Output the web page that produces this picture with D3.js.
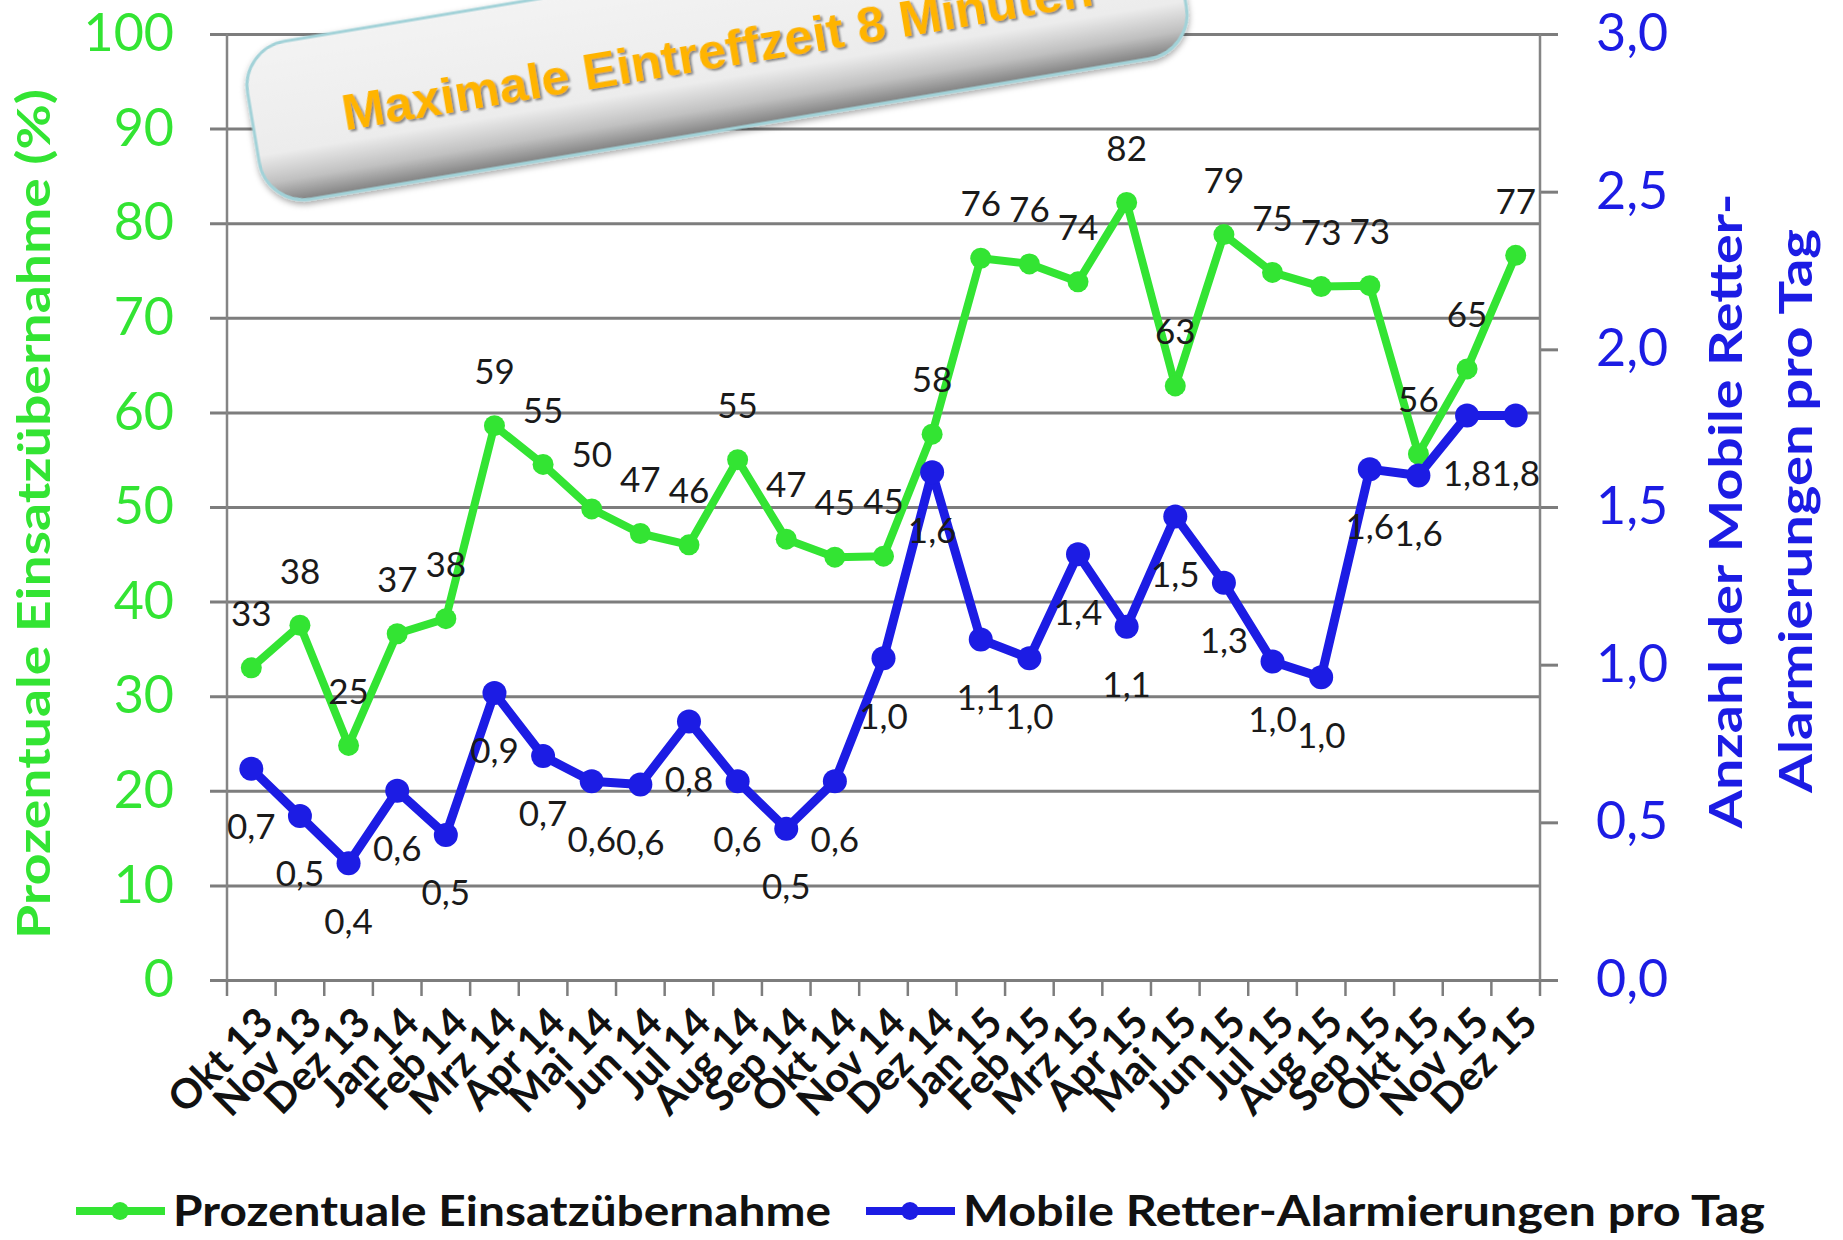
<!DOCTYPE html>
<html>
<head>
<meta charset="utf-8">
<script src="https://cdn.jsdelivr.net/npm/d3@7"></script>
<style>
body { margin: 0; background: #fff; }
svg { display: block; font-family: Lato, "Open Sans", sans-serif; }
</style>
</head>
<body>
<svg width="1843" height="1240"></svg>
<script>
// data
var months = ["Okt 13","Nov 13","Dez 13","Jan 14","Feb 14","Mrz 14","Apr 14","Mai 14","Jun 14","Jul 14","Aug 14","Sep 14","Okt 14","Nov 14","Dez 14","Jan 15","Feb 15","Mrz 15","Apr 15","Mai 15","Jun 15","Jul 15","Aug 15","Sep 15","Okt 15","Nov 15","Dez 15"];
var uebernahme = [33, 37.5, 24.8, 36.6, 38.2, 58.6, 54.5, 49.8, 47.2, 46.0, 55.0, 46.6, 44.7, 44.8, 57.7, 76.3, 75.7, 73.8, 82.2, 62.8, 78.8, 74.8, 73.3, 73.4, 55.6, 64.6, 76.6];
var alarmierungen = [0.67, 0.52, 0.37, 0.6, 0.46, 0.91, 0.71, 0.63, 0.62, 0.82, 0.63, 0.48, 0.63, 1.02, 1.61, 1.08, 1.02, 1.35, 1.12, 1.47, 1.26, 1.01, 0.96, 1.62, 1.6, 1.79, 1.79];
var leftTicks = [0, 10, 20, 30, 40, 50, 60, 70, 80, 90, 100];
var rightTicks = [0, 0.5, 1, 1.5, 2, 2.5, 3];
var seriesNames = ["Prozentuale Einsatzübernahme", "Mobile Retter-Alarmierungen pro Tag"];

var green = "#33e433", blue = "#1c1ce4";
var svg = d3.select("svg");

var x = d3.scaleBand().domain(months).range([227, 1540]);
var yL = d3.scaleLinear().domain([0, 100]).range([980, 34]);
var yR = d3.scaleLinear().domain([0, 3]).range([980, 34]);
var cx = d => x(d) + x.bandwidth() / 2;
var fmt1 = d => d3.format(".1f")(d).replace(".", ",");

var defs = svg.append("defs");
var grad = defs.append("linearGradient").attr("id", "boxfill")
  .attr("x1", 0).attr("y1", 0).attr("x2", 0).attr("y2", 1);
grad.append("stop").attr("offset", "0%").attr("stop-color", "#f3f3f3");
grad.append("stop").attr("offset", "68%").attr("stop-color", "#ececec");
grad.append("stop").attr("offset", "86%").attr("stop-color", "#c0c0c0");
grad.append("stop").attr("offset", "100%").attr("stop-color", "#808080");
defs.append("filter").attr("id", "shadow").attr("x", "-10%").attr("y", "-30%").attr("width", "120%").attr("height", "160%")
  .append("feDropShadow").attr("dx", 0).attr("dy", 3).attr("stdDeviation", 3).attr("flood-opacity", 0.35);
defs.append("filter").attr("id", "tshadow")
  .append("feDropShadow").attr("dx", 2).attr("dy", 2).attr("stdDeviation", 1.2).attr("flood-color", "#555").attr("flood-opacity", 0.7);

// left axis + gridlines
var gL = svg.append("g").attr("transform", "translate(227,0)")
  .call(d3.axisLeft(yL).tickValues(leftTicks).tickSize(-1313).tickPadding(53).tickFormat(d3.format("d")));
gL.select(".domain").remove();
gL.selectAll(".tick line").attr("x1", -17).attr("stroke", "#7d7d7d").attr("stroke-width", 3);
gL.selectAll(".tick text").attr("fill", green).attr("font-size", 52).attr("font-family", "Lato");

// right axis
var gR = svg.append("g").attr("transform", "translate(1540,0)")
  .call(d3.axisRight(yR).tickValues(rightTicks).tickSize(18).tickPadding(38).tickFormat(fmt1));
gR.select(".domain").remove();
gR.selectAll(".tick line").attr("stroke", "#7d7d7d").attr("stroke-width", 3);
gR.selectAll(".tick text").attr("fill", blue).attr("font-size", 52).attr("font-family", "Lato");

// vertical axis lines
svg.append("line").attr("x1", 227).attr("x2", 227).attr("y1", 34).attr("y2", 980).attr("stroke", "#858585").attr("stroke-width", 2.5);
svg.append("line").attr("x1", 1540).attr("x2", 1540).attr("y1", 34).attr("y2", 980).attr("stroke", "#858585").attr("stroke-width", 2.5);

// bottom axis ticks at category boundaries
svg.append("g").selectAll("line")
  .data(months.map(m => x(m)).concat([x.range()[1]]))
  .enter().append("line")
  .attr("x1", d => d).attr("x2", d => d).attr("y1", 980).attr("y2", 996)
  .attr("stroke", "#7d7d7d").attr("stroke-width", 2.5);

svg.append("g").selectAll("text")
  .data(months)
  .enter().append("text")
  .attr("transform", d => "translate(" + (cx(d) + 14) + ",1015) rotate(-45)")
  .attr("text-anchor", "end").attr("dy", "0.35em")
  .attr("font-size", 41).attr("font-weight", "bold").attr("fill", "#111")
  .text(d => d);

// lines
var lineL = d3.line().x((d, i) => cx(months[i])).y(d => yL(d));
var lineR = d3.line().x((d, i) => cx(months[i])).y(d => yR(d));

svg.append("path").datum(uebernahme).attr("d", lineL)
  .attr("fill", "none").attr("stroke", green).attr("stroke-width", 8).attr("stroke-linejoin", "round");
svg.append("g").selectAll("circle").data(uebernahme).enter().append("circle")
  .attr("cx", (d, i) => cx(months[i])).attr("cy", d => yL(d)).attr("r", 10.5).attr("fill", green);

svg.append("path").datum(alarmierungen).attr("d", lineR)
  .attr("fill", "none").attr("stroke", blue).attr("stroke-width", 9).attr("stroke-linejoin", "round");
svg.append("g").selectAll("circle").data(alarmierungen).enter().append("circle")
  .attr("cx", (d, i) => cx(months[i])).attr("cy", d => yR(d)).attr("r", 12).attr("fill", blue);

// data labels
svg.append("g").selectAll("text").data(uebernahme).enter().append("text")
  .attr("x", (d, i) => cx(months[i])).attr("y", d => yL(d) - 54)
  .attr("text-anchor", "middle").attr("dy", "0.35em")
  .attr("font-size", 35).attr("fill", "#1a1a1a")
  .text(d => Math.round(d));
svg.append("g").selectAll("text").data(alarmierungen).enter().append("text")
  .attr("x", (d, i) => cx(months[i])).attr("y", d => yR(d) + 58)
  .attr("text-anchor", "middle").attr("dy", "0.35em")
  .attr("font-size", 35).attr("fill", "#1a1a1a")
  .text(fmt1);

// axis titles
svg.append("text").attr("transform", "translate(50,514) rotate(-90)")
  .attr("text-anchor", "middle").attr("font-size", 46).attr("font-weight", "bold").attr("fill", green)
  .attr("textLength", 850).attr("lengthAdjust", "spacingAndGlyphs")
  .text("Prozentuale Einsatzübernahme (%)");
svg.append("text").attr("transform", "translate(1742,511) rotate(-90)")
  .attr("text-anchor", "middle").attr("font-size", 46).attr("font-weight", "bold").attr("fill", blue)
  .attr("textLength", 635).attr("lengthAdjust", "spacingAndGlyphs")
  .text("Anzahl der Mobile Retter-");
svg.append("text").attr("transform", "translate(1812,511) rotate(-90)")
  .attr("text-anchor", "middle").attr("font-size", 46).attr("font-weight", "bold").attr("fill", blue)
  .attr("textLength", 564).attr("lengthAdjust", "spacingAndGlyphs")
  .text("Alarmierungen pro Tag");

// legend
var legend = svg.append("g").attr("transform", "translate(0,1211)");
var legendItems = [
  {name: seriesNames[0], color: green, x0: 76, len: 658},
  {name: seriesNames[1], color: blue, x0: 866, len: 802}
];
legendItems.forEach(function(it) {
  legend.append("line").attr("x1", it.x0).attr("x2", it.x0 + 89).attr("y1", 0).attr("y2", 0)
    .attr("stroke", it.color).attr("stroke-width", 8);
  legend.append("circle").attr("cx", it.x0 + 44).attr("cy", 0).attr("r", 9).attr("fill", it.color);
  legend.append("text").attr("x", it.x0 + 97).attr("y", 0).attr("dy", "0.35em")
    .attr("font-size", 42).attr("font-weight", "bold").attr("fill", "#111")
    .attr("textLength", it.len).attr("lengthAdjust", "spacingAndGlyphs")
    .text(it.name);
});

// title banner
var banner = svg.append("g").attr("transform", "translate(717,50) rotate(-9.5)");
banner.append("rect").attr("x", -470).attr("y", -80).attr("width", 940).attr("height", 160).attr("rx", 45)
  .attr("fill", "url(#boxfill)").attr("stroke", "#a2d2d8").attr("stroke-width", 3)
  .attr("filter", "url(#shadow)");
banner.append("text").attr("x", 0).attr("y", 18).attr("text-anchor", "middle")
  .attr("font-family", "Liberation Sans, Arial, sans-serif").attr("font-weight", "bold")
  .attr("font-size", 50).attr("fill", "#ffb400")
  .attr("textLength", 760).attr("lengthAdjust", "spacingAndGlyphs")
  .attr("filter", "url(#tshadow)")
  .text("Maximale Eintreffzeit 8 Minuten");
</script>
</body>
</html>
